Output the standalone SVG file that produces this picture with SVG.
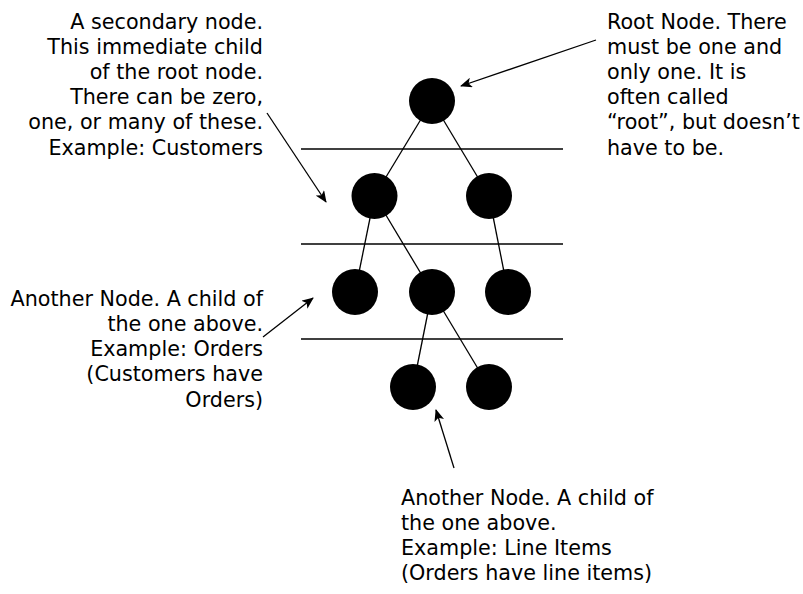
<svg xmlns="http://www.w3.org/2000/svg" width="803" height="594" viewBox="0 0 803 594">
<style>
.t{font-family:"DejaVu Sans","Liberation Sans",sans-serif;font-size:20.7px;fill:#000}
.r{text-anchor:end}
.e{stroke:#000;stroke-width:1.3;fill:none}
.n{fill:#000}
.lv{stroke:#000;stroke-width:1.3}
</style>
<defs>
<marker id="ah" markerWidth="12" markerHeight="10" refX="11" refY="5" orient="auto" markerUnits="userSpaceOnUse">
<path d="M0,0 L12,5 L0,10 L3,5 z" fill="#000"/>
</marker>
</defs>
<rect width="803" height="594" fill="#fff"/>
<g id="levels">
<line class="lv" x1="301" y1="149" x2="563" y2="149"/>
<line class="lv" x1="301" y1="244" x2="563" y2="244"/>
<line class="lv" x1="301" y1="339" x2="563" y2="339"/>
</g>
<g id="connectors">
<line class="e" x1="432" y1="101" x2="374.5" y2="196"/>
<line class="e" x1="432" y1="101" x2="489" y2="196"/>
<line class="e" x1="374.5" y1="196" x2="355" y2="292"/>
<line class="e" x1="374.5" y1="196" x2="432" y2="292"/>
<line class="e" x1="489" y1="196" x2="508" y2="292"/>
<line class="e" x1="432" y1="292" x2="413" y2="387"/>
<line class="e" x1="432" y1="292" x2="489" y2="387"/>
<line class="e" x1="596" y1="40" x2="461" y2="86" marker-end="url(#ah)"/>
<line class="e" x1="267" y1="113" x2="326" y2="202" marker-end="url(#ah)"/>
<line class="e" x1="263" y1="337" x2="313" y2="298" marker-end="url(#ah)"/>
<line class="e" x1="454" y1="468" x2="436" y2="410" marker-end="url(#ah)"/>
</g>
<g id="root"><circle class="n" cx="432" cy="101" r="23"/></g>
<g id="l2a"><circle class="n" cx="374.5" cy="196" r="23"/></g>
<g id="l2b"><circle class="n" cx="489" cy="196" r="23"/></g>
<g id="l3a"><circle class="n" cx="355" cy="292" r="23"/></g>
<g id="l3b"><circle class="n" cx="432" cy="292" r="23"/></g>
<g id="l3c"><circle class="n" cx="508" cy="292" r="23"/></g>
<g id="l4a"><circle class="n" cx="413" cy="387" r="23"/></g>
<g id="l4b"><circle class="n" cx="489" cy="387" r="23"/></g>
<g id="note-secondary">
<text class="t r" x="263" y="29">A secondary node.</text>
<text class="t r" x="263" y="54">This immediate child</text>
<text class="t r" x="263" y="79">of the root node.</text>
<text class="t r" x="263" y="104">There can be zero,</text>
<text class="t r" x="263" y="129">one, or many of these.</text>
<text class="t r" x="263" y="155">Example: Customers</text>
</g>
<g id="note-root">
<text class="t" x="607" y="29">Root Node. There</text>
<text class="t" x="607" y="54">must be one and</text>
<text class="t" x="607" y="79">only one. It is</text>
<text class="t" x="607" y="104">often called</text>
<text class="t" x="607" y="129">“root”, but doesn’t</text>
<text class="t" x="607" y="155">have to be.</text>
</g>
<g id="note-orders">
<text class="t r" x="263" y="306">Another Node. A child of</text>
<text class="t r" x="263" y="331">the one above.</text>
<text class="t r" x="263" y="356">Example: Orders</text>
<text class="t r" x="263" y="381">(Customers have</text>
<text class="t r" x="263" y="407">Orders)</text>
</g>
<g id="note-lineitems">
<text class="t" x="401" y="505">Another Node. A child of</text>
<text class="t" x="401" y="530">the one above.</text>
<text class="t" x="401" y="555">Example: Line Items</text>
<text class="t" x="401" y="580">(Orders have line items)</text>
</g>
</svg>
